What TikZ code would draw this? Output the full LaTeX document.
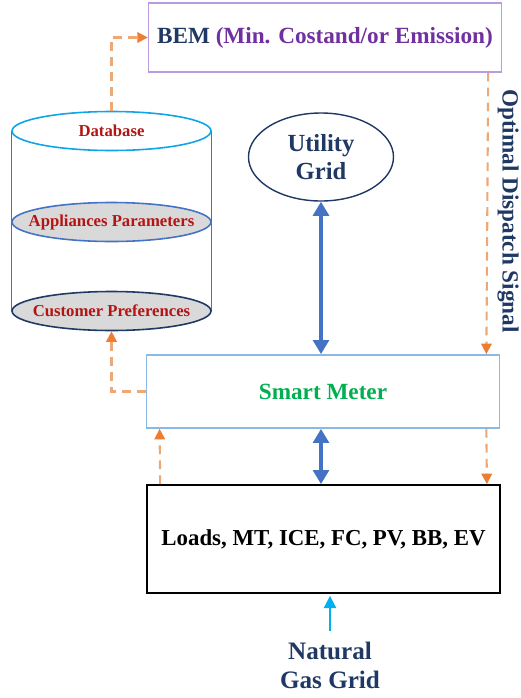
\documentclass[tikz,border=0pt]{standalone}
\usepackage{fontspec}
\setmainfont{Liberation Serif}
\usetikzlibrary{shapes.geometric,arrows.meta,positioning,calc,backgrounds}
\definecolor{Navy}{RGB}{31,56,100}
\definecolor{Plum}{RGB}{112,48,160}
\definecolor{Lilac}{RGB}{185,155,225}
\definecolor{Orng}{RGB}{237,125,49}
\definecolor{OrngLt}{RGB}{238,168,118}
\definecolor{Steel}{RGB}{68,114,196}
\definecolor{SkyLn}{RGB}{140,185,225}
\definecolor{Leaf}{RGB}{0,176,80}
\definecolor{Brick}{RGB}{180,20,20}
\definecolor{GasBlue}{RGB}{0,176,240}
\definecolor{Shade}{RGB}{217,217,217}
\newcommand{\hd}[1]{{\fontsize{13.2}{16}\selectfont\bfseries #1}}
\newcommand{\sm}[1]{{\fontsize{9.5}{11}\selectfont\bfseries #1}}
\tikzset{
  blockbox/.style={rectangle,minimum width=7.06cm,inner sep=2pt,fill=white},
  dbell/.style={ellipse,minimum width=3.98cm,minimum height=.78cm,inner xsep=-14pt,
                inner ysep=0pt,text=Brick,line width=.9pt},
  sigline/.style={-{Triangle[length=6pt,width=6pt,color=Orng]},OrngLt,
                  dash pattern=on 5pt off 3.5pt,line width=1.2pt},
  powline/.style={{Triangle[length=8pt,width=9pt]}-{Triangle[length=8pt,width=9pt]},
                  Steel,line width=1.8pt},
}

\begin{document}
\begin{tikzpicture}
  \useasboundingbox (0,0) rectangle (10.42,-13.96);

  % top: energy manager
  \node[blockbox,draw=Lilac,line width=.8pt,minimum height=1.38cm,text=Plum]
    (bem) at (6.5,-0.75) {\hd{{\color{Navy}BEM} (Min. Costand/or Emission)}};

  % database cylinder
  \node[dbell,draw=GasBlue!80!Steel,fill=white] (dbtop) at (2.23,-2.62) {\sm{Database}};
  \node[dbell,draw=Steel,fill=Shade] (dbmid) at (2.23,-4.44) {\sm{Appliances Parameters}};
  \node[dbell,draw=Navy,fill=Shade] (dbbot) at (2.23,-6.22) {\sm{Customer Preferences}};
  \begin{scope}[on background layer]
    \draw[Steel,line width=.6pt] (dbtop.west) -- (dbbot.west);
    \draw[Steel,line width=.6pt] (dbtop.east) -- (dbbot.east);
  \end{scope}

  \node[ellipse,draw=Navy,line width=.8pt,minimum width=2.9cm,minimum height=1.76cm,
        inner sep=0pt,align=center,text=Navy,font=\fontsize{14}{16}\selectfont\bfseries]
        (grid) at (6.42,-3.14) {Utility\\Grid};

  \node[blockbox,draw=SkyLn,line width=1pt,minimum height=1.46cm,text=Leaf]
    (sm) at (6.46,-7.83) {\hd{Smart Meter}};

  \node[blockbox,draw=black,line width=1pt,minimum height=2.16cm]
    (loads) at (6.47,-10.78) {{\fontsize{13}{15}\selectfont\bfseries Loads, MT, ICE, FC, PV, BB, EV}};

  \node[align=center,text=Navy,font=\fontsize{14.3}{16.4}\selectfont\bfseries]
    (gas) at (6.6,-13.3) {Natural\\Gas Grid};

  \node[rotate=-90,text=Navy] (ods) at (10.16,-4.22) {\hd{Optimal Dispatch Signal}};

  % signals
  \draw[sigline] (dbtop.north) |- (bem.west);
  \draw[sigline] ([xshift=-0.28cm]bem.south east) -- ([xshift=-0.28cm]sm.north east);
  \draw[sigline] (sm.west) -| (dbbot.south);
  \draw[sigline] ([xshift=0.28cm]loads.north west) -- ([xshift=0.28cm]sm.south west);
  \draw[sigline] ([xshift=-0.28cm]sm.south east) -- ([xshift=-0.28cm]loads.north east);

  % power flows
  \draw[powline] (grid.south) -- (grid.south |- sm.north);
  \draw[powline] (sm.south -| grid.south) -- (loads.north -| grid.south);
  \draw[-{Triangle[length=7pt,width=7pt]},GasBlue,line width=1pt,shorten <=0.1cm,shorten >=0.04cm]
    (gas.north) -- (gas.north |- loads.south);
\end{tikzpicture}
\end{document}
